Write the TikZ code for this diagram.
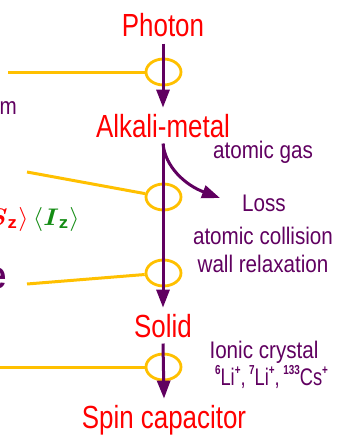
\documentclass[tikz,border=0pt]{standalone}
\usepackage{amsmath}
\usepackage{fontspec}
\setmainfont{Liberation Sans}
\newfontfamily\redfont[FakeStretch=0.81]{Liberation Sans}
\newfontfamily\purfont[FakeStretch=0.86]{Liberation Sans}
\usetikzlibrary{arrows.meta,shapes.geometric}
\definecolor{myred}{RGB}{255,0,0}
\definecolor{mypurple}{RGB}{96,0,96}
\definecolor{myyellow}{RGB}{255,192,0}
\definecolor{mygreen}{RGB}{20,140,20}
\newcommand{\sups}[1]{\raisebox{0.42em}{\fontsize{13}{13}\selectfont\bfseries #1}}
\begin{document}
\begin{tikzpicture}[x=1pt,y=-1pt,
  stage/.style={font=\redfont\fontsize{32}{32}\selectfont, text=myred, anchor=base, inner xsep=0pt, inner ysep=6pt},
  note/.style={font=\purfont\fontsize{24}{24}\selectfont, text=mypurple, anchor=base, inner sep=0pt},
  ring/.style={draw=myyellow, line width=2.8pt, ellipse, minimum width=35pt, minimum height=26pt, inner sep=0pt},
  feed/.style={draw=myyellow, line width=3pt},
  flow/.style={draw=mypurple, line width=3pt, -{Triangle[width=13pt,length=18pt]}},
]
\useasboundingbox (0,0) rectangle (337,436);
\clip (0,0) rectangle (337,436);

% stage labels
\node[stage] (photon) at (163,37) {Photon};
\node[stage] (alkali) at (163,137) {Alkali-metal};
\node[stage] (solid) at (163,337) {Solid};
\node[stage] (spin) at (164,428) {Spin capacitor};

% notes
\node[note] (gas) at (263,158) {atomic gas};
\node[note] (loss) at (264,211) {Loss};
\node[note] (coll) at (263,244) {atomic collision};
\node[note] (wall) at (263,272) {wall relaxation};
\node[note] (ionic) at (264,358) {Ionic crystal};
\node[note] (iso) at (271.5,385) {\resizebox{113pt}{\height}{\sups{6}Li\sups{+},\hspace{4pt}\sups{7}Li\sups{+},\hspace{4pt}\sups{133}Cs\sups{+}}};

% cut-off texts at left edge
\node[note, anchor=base east] (mtext) at (17,114) {m};
\node[anchor=base east, inner sep=0pt] (spins) at (80,225)
  {\scalebox{2.65}[2.4]{$\color{myred}\langle\boldsymbol{S}_{\mathbf z}\rangle\,\color{mygreen}\langle\boldsymbol{I}_{\mathbf z}\rangle$}};
\node[anchor=base east, inner sep=0pt, text=mypurple, font=\purfont\bfseries\fontsize{38}{38}\selectfont] (etext) at (7,288) {e};

% rings
\node[ring] (r1) at (163.5,72) {};
\node[ring] (r2) at (163.5,197) {};
\node[ring] (r3) at (163.5,273) {};
\node[ring] (r4) at (163.5,367) {};

% feed line ends
\coordinate (f1) at (8,72);
\coordinate (f2) at (27,172);
\coordinate (f3) at (27,284);
\coordinate (f4) at (-5,367);
\coordinate (losstip) at (220,198);

% purple flow
\draw[flow] (photon.south) -- (alkali.north);
\draw[flow] (alkali.south) -- (solid.north);
\draw[flow] (solid.south) -- (spin.north);
\draw[flow] (alkali.south) .. controls +(2,23) and +(-35,-13) .. (losstip);

% yellow feeds
\draw[feed] (f1) -- (r1);
\draw[feed] (f2) -- (r2);
\draw[feed] (f3) -- (r3);
\draw[feed] (f4) -- (r4);
\end{tikzpicture}
\end{document}
